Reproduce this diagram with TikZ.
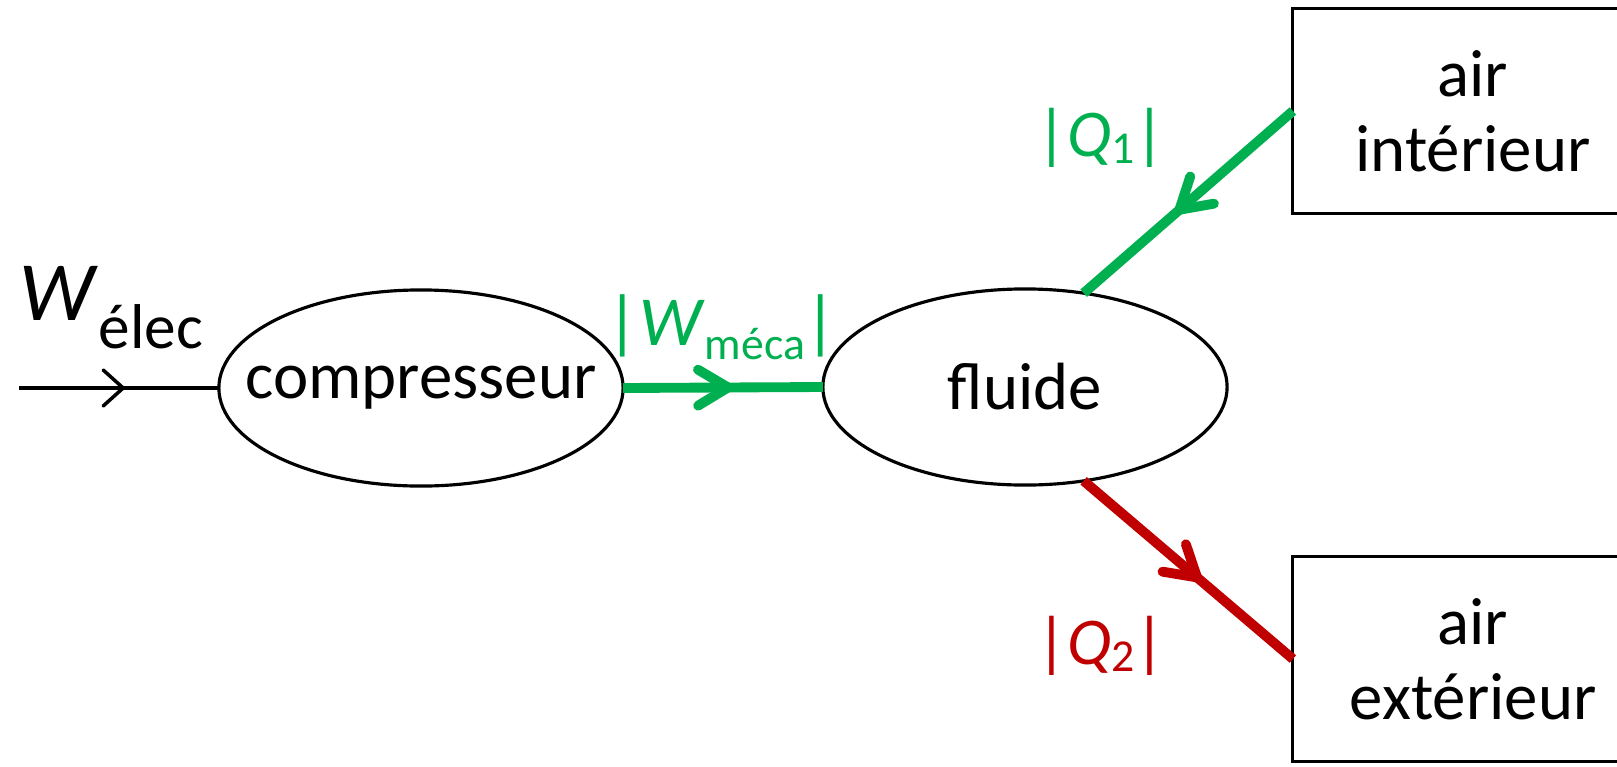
\documentclass[tikz,border=0pt]{standalone}
\usepackage{fontspec}
\setmainfont{Carlito}
\usetikzlibrary{shapes.geometric}
\usetikzlibrary{arrows.meta}
\usetikzlibrary{decorations.markings}

\definecolor{vert}{HTML}{00B050}
\definecolor{rouge}{HTML}{C00000}

% indice abaisse sous la lettre
\newcommand{\indice}[3]{\raisebox{-#1}{\fontsize{#2}{#2}\selectfont #3}}

\tikzset{
  systeme/.style={draw, ellipse, line width=0.9pt, minimum width=4.04cm, minimum height=1.96cm,
    inner xsep=-0.4cm, inner ysep=0pt, outer sep=0pt, font=\fontsize{19}{21.3}\selectfont},
  reservoir/.style={draw, rectangle, line width=0.9pt, minimum width=3.6cm, minimum height=2.05cm,
    inner sep=0pt, outer sep=0pt, align=center, font=\fontsize{19}{21.3}\selectfont},
  flux/.style={line width=2.8pt, postaction={decorate}, decoration={markings,
    mark=at position #1 with {\arrow{Straight Barb[length=0.3cm, width=0.36cm, round]}}}},
  entree/.style={line width=1pt, postaction={decorate}, decoration={markings,
    mark=at position #1 with {\arrow{Straight Barb[length=0.2cm, width=0.36cm, round]}}}},
  etiquette/.style={inner sep=0pt, font=\fontsize{19}{21}\selectfont}
}

\begin{document}
\begin{tikzpicture}[x=0.01cm, y=-0.01cm]
    \useasboundingbox (0,0) rectangle (1617,766);
    \clip (0,0) rectangle (1617,766);
    % les deux systemes
    \node[systeme] (comp) at (421,388) {compresseur};
    \node[systeme] (fluide) at (1025,387) {fluide};
    % sources de chaleur (coupees par le bord)
    \node[reservoir] (interieur) at (1473,111) {air\\intérieur};
    \node[reservoir] (exterieur) at (1473,659) {air\\extérieur};
    \coordinate (depart) at (19,388);
    % echanges d'energie
    \draw[entree=0.53] (depart) -- (comp.west);
    \draw[flux=0.55, vert] (comp.east) -- (fluide.west);
    \draw[flux=0.56, vert] (interieur.west) -- (fluide.58);
    \draw[flux=0.56, rouge] (fluide.-58) -- (exterieur.west);
    % grandeurs
    \node[etiquette, anchor=base west] (welec) at (19,320)
      {\fontsize{24}{24}\selectfont\textit{W}\indice{0.28cm}{18}{élec}};
    \node[etiquette, text=vert] (wmeca) at (722,327) {\fontsize{20}{20}\selectfont|\textit{W}\indice{0.14cm}{13}{méca}|};
    \node[etiquette, text=vert] (q1) at (1101,138) {|\textit{Q}\indice{0.07cm}{13}{1}|};
    \node[etiquette, text=rouge] (q2) at (1101,646) {|\textit{Q}\indice{0.07cm}{13}{2}|};
\end{tikzpicture}
\end{document}
